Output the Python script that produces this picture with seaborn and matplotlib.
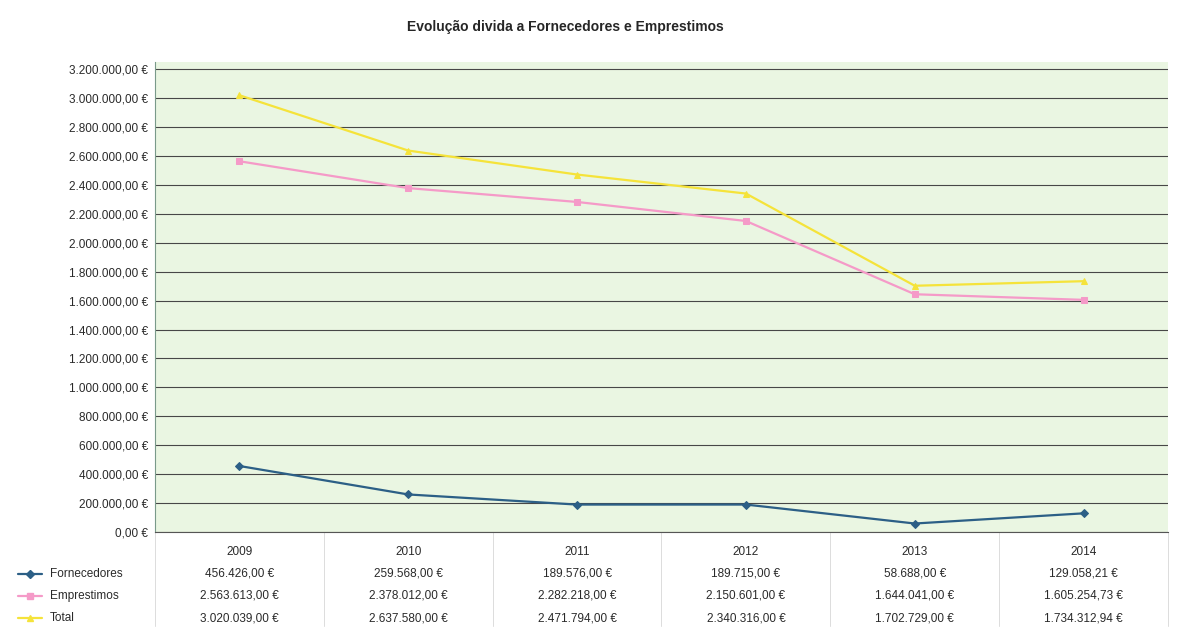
import matplotlib
matplotlib.use("Agg")
import matplotlib.pyplot as plt
import matplotlib.transforms as mtransforms
from matplotlib.ticker import FuncFormatter, MultipleLocator
import pandas as pd
import seaborn as sns

# Debt series per year (EUR)
years = ["2009", "2010", "2011", "2012", "2013", "2014"]
fornecedores = [456426.00, 259568.00, 189576.00, 189715.00, 58688.00, 129058.21]
emprestimos = [2563613.00, 2378012.00, 2282218.00, 2150601.00, 1644041.00, 1605254.73]
total = [3020039.00, 2637580.00, 2471794.00, 2340316.00, 1702729.00, 1734312.94]

series_names = ["Fornecedores", "Emprestimos", "Total"]
series_values = [fornecedores, emprestimos, total]
colors = {"Fornecedores": "#2c5f86", "Emprestimos": "#f59ac8", "Total": "#f5e33a"}
markers = {"Fornecedores": "D", "Emprestimos": "s", "Total": "^"}

rows = []
for name, vals in zip(series_names, series_values):
    for i, (y, v) in enumerate(zip(years, vals)):
        rows.append({"idx": i, "year": y, "serie": name, "valor": v})
df = pd.DataFrame(rows)


def euro(v):
    s = f"{v:,.2f}"
    s = s.replace(",", "X").replace(".", ",").replace("X", ".")
    return s + " €"


sns.set_style("white")
plt.rcParams["font.family"] = ["Liberation Sans", "DejaVu Sans"]

fig = plt.figure(figsize=(11.81, 6.44), dpi=100)
ax = fig.add_axes([155 / 1181, 1 - 532 / 644, (1168 - 155) / 1181, (532 - 62) / 644])
ax.set_facecolor("#eaf6e2")

for name in series_names:
    sub = df[df["serie"] == name]
    sns.lineplot(data=sub, x="idx", y="valor", ax=ax, color=colors[name],
                 marker=markers[name], markersize=4, linewidth=1.6,
                 markeredgecolor=colors[name], legend=False)

ax.set_xlim(-0.5, len(years) - 0.5)
ax.set_ylim(0, 3250000)
ax.yaxis.set_major_locator(MultipleLocator(200000))
ax.yaxis.set_major_formatter(FuncFormatter(lambda v, p: euro(v)))
ax.set_xticks([])
ax.set_xlabel("")
ax.set_ylabel("")
ax.grid(axis="y", color="#474747", linewidth=0.8)
ax.tick_params(axis="y", labelsize=8.5, length=0, pad=5, colors="#2a2a2a")
for side in ["top", "right"]:
    ax.spines[side].set_visible(False)
ax.spines["left"].set_color("#7a9a8a")
ax.spines["bottom"].set_color("#555555")

ax.set_title("Evolução divida a Fornecedores e Emprestimos", fontsize=10,
             fontweight="bold", pad=22, x=0.405)

# Data table below the plot
trans = mtransforms.blended_transform_factory(ax.transData, ax.transAxes)
ftrans = mtransforms.blended_transform_factory(fig.transFigure, ax.transAxes)
row_y = [-0.089, -0.136, -0.183]
for i, y in enumerate(years):
    ax.text(i, -0.043, y, transform=trans, ha="center", va="center",
            fontsize=8.5, color="#2a2a2a", clip_on=False)
for r, (name, vals) in enumerate(zip(series_names, series_values)):
    ax.plot([18 / 1181, 42 / 1181], [row_y[r], row_y[r]], transform=ftrans,
            color=colors[name], linewidth=1.6, clip_on=False)
    ax.plot([30 / 1181], [row_y[r]], transform=ftrans, color=colors[name],
            marker=markers[name], markersize=4, clip_on=False)
    ax.text(50 / 1181, row_y[r], name, transform=ftrans, ha="left",
            va="center", fontsize=8.5, color="#2a2a2a", clip_on=False)
    for i, v in enumerate(vals):
        ax.text(i, row_y[r], euro(v), transform=trans, ha="center",
                va="center", fontsize=8.5, color="#2a2a2a", clip_on=False)

for i in range(len(years) + 1):
    ax.plot([i - 0.5, i - 0.5], [0, -0.2], transform=trans, color="#dcdcdc",
            linewidth=0.7, clip_on=False)

fig.savefig("out.png", dpi=100, facecolor="white")
